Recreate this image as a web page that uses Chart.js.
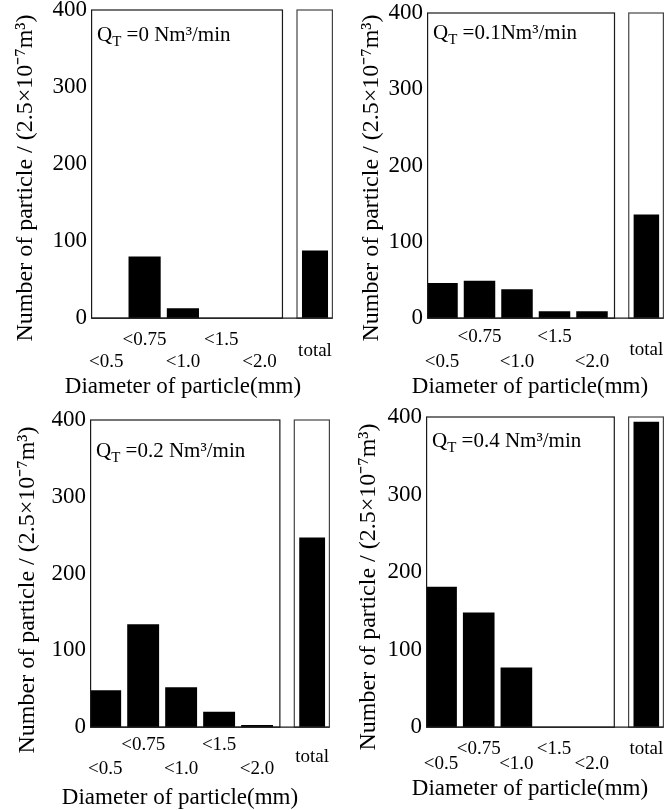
<!DOCTYPE html>
<html>
<head>
<meta charset="utf-8">
<script src="https://cdn.jsdelivr.net/npm/chart.js@4.4.1/dist/chart.umd.min.js"></script>
<style>
html, body { margin: 0; padding: 0; background: #fff; overflow: hidden; }
#wrap { position: relative; width: 664px; height: 810px; overflow: hidden; background: #fff; }
canvas { position: absolute; }
</style>
</head>
<body>
<div id="wrap"></div>
<script>
// values
const sizeLabels = ['<0.5', '<0.75', '<1.0', '<1.5', '<2.0'];
const totalLabel = 'total';
const qtTexts = [' =0 Nm³/min', ' =0.1Nm³/min', ' =0.2 Nm³/min', ' =0.4 Nm³/min'];
const counts_qt0 = [0, 80, 13, 0, 0];
const counts_qt01 = [46, 49, 38, 9, 9];
const counts_qt02 = [48, 134, 52, 20, 3];
const counts_qt04 = [181, 148, 77, 0, 0];
const totals = [88, 136, 247, 394];
const yTitle = 'Number of particle / (2.5×10⁻⁷m³)';
const xTitle = 'Diameter of particle(mm)';

const SERIF = '"Liberation Serif", "Times New Roman", serif';
const Y_MAX = 400;
// x positions on the linear axis: 5 size classes then the separate total box
const X_MIN = -0.4, MAIN_END = 4.6, TOTAL_START = 4.98, TOTAL_X = 5.45, X_MAX = 5.92;
const tickValues = [0, 1, 2, 3, 4, TOTAL_X];

const Y_TITLE_SIZE = 24, X_TITLE_SIZE = 23;

const panels = [
    { counts: counts_qt0, total: totals[0], qt: qtTexts[0], qtDy: 31,
      area: { left: 91, top: 10, right: 333, bottom: 318 }, yTitleAt: [25, 178], xTitleAt: [183, 387],
      rowGap: 11, rowPad: 8.5, totalRow: 1 },
    { counts: counts_qt01, total: totals[1], qt: qtTexts[1], qtDy: 26,
      area: { left: 427, top: 13, right: 664, bottom: 318 }, yTitleAt: [371, 178], xTitleAt: [530, 387],
      rowGap: 12.5, rowPad: 5, totalRow: 1 },
    { counts: counts_qt02, total: totals[2], qt: qtTexts[2], qtDy: 37,
      area: { left: 90, top: 420, right: 330, bottom: 727 }, yTitleAt: [27, 590], xTitleAt: [180, 798],
      rowGap: 12, rowPad: 4, totalRow: 1 },
    { counts: counts_qt04, total: totals[3], qt: qtTexts[3], qtDy: 30,
      area: { left: 426, top: 417, right: 664, bottom: 727 }, yTitleAt: [368, 587], xTitleAt: [530, 789],
      rowGap: 7.5, rowPad: 10.5, totalRow: 0 }
];

const boxPlugin = {
    id: 'boxes',
    afterDatasetsDraw(chart) {
        const ctx = chart.ctx;
        const x = chart.scales.x, y = chart.scales.y;
        const top = y.getPixelForValue(Y_MAX), base = y.getPixelForValue(0);
        ctx.save();
        ctx.strokeStyle = '#1a1a1a';
        ctx.lineWidth = 1.2;
        const l1 = x.getPixelForValue(X_MIN) + 0.6, r1 = x.getPixelForValue(MAIN_END);
        ctx.strokeRect(l1, top, r1 - l1, base - top);
        const l2 = x.getPixelForValue(TOTAL_START), r2 = x.getPixelForValue(X_MAX) - 0.6;
        ctx.strokeStyle = '#444';
        ctx.strokeRect(l2, top, r2 - l2, base - top);
        ctx.strokeStyle = '#1a1a1a';
        ctx.beginPath();
        ctx.moveTo(l1, base);
        ctx.lineTo(r2, base);
        ctx.stroke();
        ctx.restore();
    }
};

const qtPlugin = {
    id: 'qt',
    afterDraw(chart, args, opts) {
        const ctx = chart.ctx;
        let x = chart.chartArea.left + 6;
        const y = chart.chartArea.top + opts.dy;
        ctx.save();
        ctx.fillStyle = '#000';
        ctx.textBaseline = 'alphabetic';
        ctx.font = '21px ' + SERIF;
        ctx.fillText('Q', x, y);
        x += ctx.measureText('Q').width;
        ctx.font = '15px ' + SERIF;
        ctx.fillText('T', x, y + 5);
        x += ctx.measureText('T').width;
        ctx.font = '21px ' + SERIF;
        ctx.fillText(opts.text, x, y);
        ctx.restore();
    }
};

function create_panel(p) {
    const lhY = Y_TITLE_SIZE * 1.2, lhX = X_TITLE_SIZE * 1.2;
    const canvasLeft = Math.round(p.yTitleAt[0] - lhY / 2);
    const boxBottom = p.xTitleAt[1] + lhX / 2;
    const canvasTop = Math.round(2 * p.yTitleAt[1] - boxBottom);
    const width = Math.round(2 * p.xTitleAt[0] - 2 * canvasLeft);
    const height = Math.round(boxBottom - canvasTop);
    const topH = p.area.top - canvasTop;
    const xH = p.xTitleAt[1] - lhX / 2 - p.area.bottom;
    const yW = p.area.left - canvasLeft - lhY;
    const y2W = canvasLeft + width - p.area.right;

    const canvas = document.createElement('canvas');
    canvas.width = width;
    canvas.height = height;
    canvas.style.left = canvasLeft + 'px';
    canvas.style.top = canvasTop + 'px';
    document.getElementById('wrap').appendChild(canvas);

    const tickText = sizeLabels.map((s, i) => (i % 2 ? [s] : ['', '', s]))
        .concat([p.totalRow ? ['', totalLabel] : [totalLabel]]);

    const noPad = (scale) => {
        scale.paddingLeft = 0;
        scale.paddingRight = 0;
    };

    new Chart(canvas, {
        type: 'bar',
        data: {
            datasets: [{
                data: p.counts.map((v, i) => ({ x: i, y: v })),
                backgroundColor: '#000',
                barPercentage: 0.84,
                categoryPercentage: 1,
                grouped: false,
                xAxisID: 'x',
                yAxisID: 'y'
            }, {
                data: [{ x: TOTAL_X, y: p.total }],
                backgroundColor: '#000',
                barPercentage: 0.68,
                categoryPercentage: 1,
                grouped: false,
                xAxisID: 'x',
                yAxisID: 'y'
            }]
        },
        options: {
            responsive: false,
            animation: false,
            devicePixelRatio: 1,
            layout: { padding: 0 },
            scales: {
                x: {
                    type: 'linear',
                    offset: false,
                    min: X_MIN,
                    max: X_MAX,
                    grid: { display: false },
                    border: { display: false },
                    afterBuildTicks: (scale) => {
                        scale.ticks = tickValues.map(v => ({ value: v }));
                    },
                    ticks: {
                        autoSkip: false,
                        maxRotation: 0,
                        minRotation: 0,
                        padding: p.rowPad,
                        color: '#000',
                        font: { family: SERIF, size: 19, lineHeight: p.rowGap + 'px' },
                        callback: (value, index) => tickText[index]
                    },
                    afterFit: (scale) => { scale.height = xH; noPad(scale); }
                },
                x2: {
                    type: 'linear',
                    position: 'top',
                    offset: false,
                    grid: { display: false },
                    border: { display: false },
                    ticks: { display: false },
                    afterFit: (scale) => { scale.height = topH; noPad(scale); }
                },
                y: {
                    type: 'linear',
                    min: 0,
                    max: Y_MAX,
                    grid: { display: false, drawTicks: false },
                    border: { display: false },
                    ticks: {
                        stepSize: 100,
                        padding: 4,
                        color: '#000',
                        font: { family: SERIF, size: 23 }
                    },
                    afterFit: (scale) => { scale.width = yW; }
                },
                y2: {
                    type: 'linear',
                    position: 'right',
                    grid: { display: false },
                    border: { display: false },
                    ticks: { display: false },
                    afterFit: (scale) => { scale.width = y2W; }
                }
            },
            plugins: {
                legend: { display: false },
                tooltip: { enabled: false },
                title: {
                    display: true,
                    position: 'left',
                    text: yTitle,
                    color: '#000',
                    padding: 0,
                    font: { family: SERIF, size: Y_TITLE_SIZE, weight: 'normal', lineHeight: 1.2 }
                },
                subtitle: {
                    display: true,
                    position: 'bottom',
                    text: xTitle,
                    color: '#000',
                    padding: 0,
                    font: { family: SERIF, size: X_TITLE_SIZE, weight: 'normal', lineHeight: 1.2 }
                },
                qt: { text: p.qt, dy: p.qtDy }
            }
        },
        plugins: [boxPlugin, qtPlugin]
    });
}

panels.forEach(create_panel);
</script>
</body>
</html>
